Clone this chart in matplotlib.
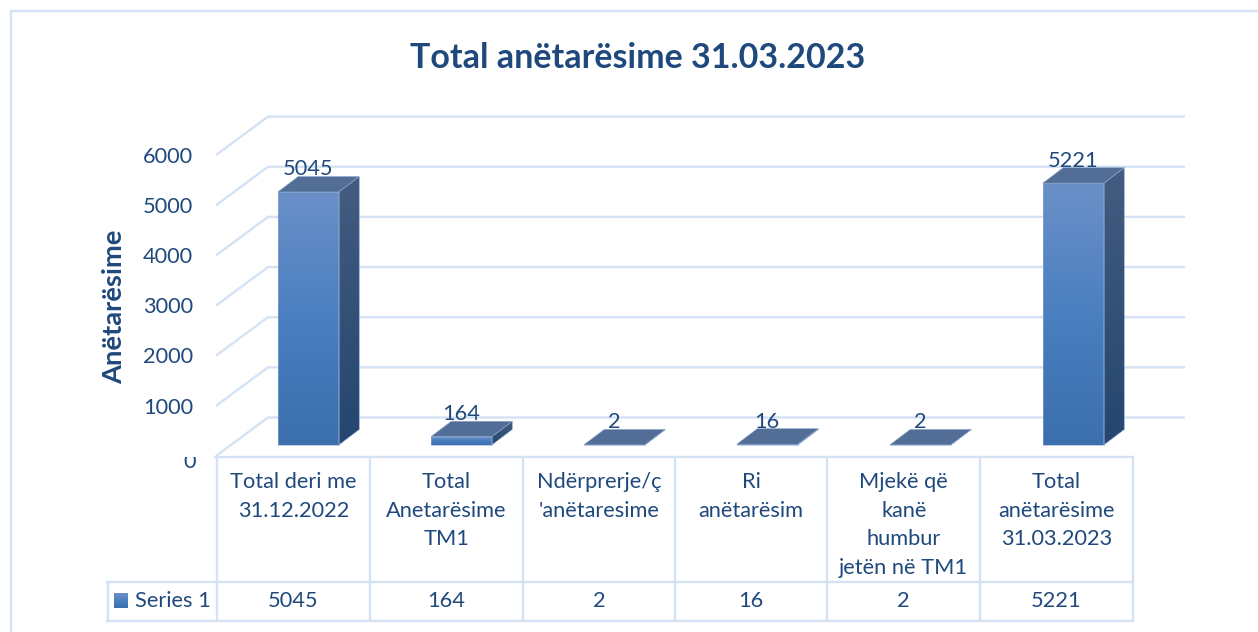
import numpy as np
import matplotlib
matplotlib.use("Agg")
import matplotlib.pyplot as plt
from matplotlib.colors import LinearSegmentedColormap
from matplotlib.patches import Polygon, Rectangle
from matplotlib.transforms import Affine2D, blended_transform_factory

categories = ["Total deri me\n31.12.2022", "Total\nAnetarësime\nTM1", "Ndërprerje/ç\n'anëtaresime",
              "Ri\nanëtarësim", "Mjekë që\nkanë\nhumbur\njetën në TM1", "Total\nanëtarësime\n31.03.2023"]
values = [5045, 164, 2, 16, 2, 5221]
series_name = "Series 1"
y_ticks = [0, 1000, 2000, 3000, 4000, 5000, 6000]
title = "Total anëtarësime 31.03.2023"
y_label = "Anëtarësime"

W, H = 1258, 632
TXT = "#1f497d"
GRID = "#d4e2f4"
FS = 15.7
plt.rcParams['font.family'] = ['Lato', 'DejaVu Sans']

fig = plt.figure(figsize=(W / 100, H / 100), dpi=100, facecolor="white")
ax = fig.add_axes([0, 0, 1, 1])
ax.axis("off")

# data -> pixel layout of the front plane of the bars
X0, DX = 308.25, 153.0
Y0, SY = 445.0, 0.05015
ax.set_xlim((0 - X0) / DX, (W - X0) / DX)
ax.set_ylim((Y0 - H) / SY, Y0 / SY)
px = Affine2D().scale(1 / W, -1 / H).translate(0, 1) + fig.transFigure
px_x = blended_transform_factory(px, ax.transData)

bar_w = 61 / DX
ddx, ddv = 20.5 / DX, 15.5 / SY         # bar depth in data units
wall_dv = 27.5 / SY                     # back wall relative to bars
wall_x0 = (268 - X0) / DX
wall_x1 = (1185 - X0) / DX
side_dx, side_dv = 52 / DX, 38.5 / SY

# chart frame (top and left only are visible)
ax.plot([10.5, 10.5, W], [H, 11, 11], color=GRID, lw=1.7, transform=px, solid_joinstyle="miter")

# gridlines on the wall
for v in y_ticks:
    yb = v + wall_dv
    ax.plot([wall_x0 - side_dx, wall_x0, wall_x1], [yb - side_dv, yb, yb],
            color=GRID, lw=1.7, zorder=1, solid_capstyle="butt")

front_cm = LinearSegmentedColormap.from_list("f", ["#6b90c8", "#4a7fc0", "#3b6fae"])
side_cm = LinearSegmentedColormap.from_list("s", ["#445c80", "#24466f"])
TOP = "#526e96"
EDGE = "#8fa9cf"

def grad_poly(pts, cm, z):
    pts = np.array(pts)
    poly = Polygon(pts, closed=True, facecolor="none", edgecolor=EDGE, lw=0.4, zorder=z + 0.1)
    ax.add_patch(poly)
    g = np.linspace(0, 1, 128).reshape(-1, 1)
    im = ax.imshow(g, cmap=cm, aspect="auto", origin="upper", zorder=z, interpolation="bilinear",
                   extent=[pts[:, 0].min(), pts[:, 0].max(), pts[:, 1].min(), pts[:, 1].max()])
    im.set_clip_path(poly)

xlim, ylim = ax.get_xlim(), ax.get_ylim()
for i, v in enumerate(values):
    l, r = i - bar_w / 2, i + bar_w / 2
    grad_poly([(r, 0), (r + ddx, ddv), (r + ddx, v + ddv), (r, v)], side_cm, 3)
    grad_poly([(l, 0), (r, 0), (r, v), (l, v)], front_cm, 3)
    ax.add_patch(Polygon([(l, v), (r, v), (r + ddx, v + ddv), (l + ddx, v + ddv)], closed=True,
                         facecolor=TOP, edgecolor=EDGE, lw=0.4, zorder=4))
    ax.annotate(str(v), (i, v), xytext=(0, 22.5), textcoords="offset pixels", ha="center", va="center",
                fontsize=FS, color=TXT, zorder=6)
ax.set_xlim(xlim)
ax.set_ylim(ylim)

# value-axis labels
for v in y_ticks[1:]:
    ax.text(193, v - 12.7 / SY, str(v), transform=px_x, ha="right", va="center", fontsize=FS, color=TXT, zorder=6)
zero = ax.text(196, 461.5, str(y_ticks[0]), transform=px, ha="right", va="center", fontsize=FS, color=TXT)
zero.set_clip_path(Rectangle((150, 457), 60, 30, transform=px))
zero.set_clip_on(True)

# title and axis label
ax.text(638, 58, title, transform=px, ha="center", va="center", fontsize=24.5, fontweight="bold", color=TXT)
ax.text(114.5, 307, y_label, transform=px, ha="center", va="center", rotation=90,
        fontsize=19.7, fontweight="bold", color=TXT)

# data table
col_edges = [217 + 153 * k - (0.4 * k if k > 2 else 0) for k in range(7)]
for x in col_edges:
    ax.plot([x, x], [457, 621], color=GRID, lw=1.7, transform=px, solid_capstyle="butt", zorder=2)
ax.plot([107.5, 107.5], [582, 621], color=GRID, lw=1.7, transform=px, zorder=2)
ax.plot([215, col_edges[-1]], [456.5, 456.5], color=GRID, lw=1.7, transform=px, zorder=2)
ax.plot([107, col_edges[-1]], [582, 582], color=GRID, lw=1.7, transform=px, zorder=2)
ax.plot([107, col_edges[-1]], [621, 621], color=GRID, lw=1.7, transform=px, zorder=2)

for k, (c, v) in enumerate(zip(categories, values)):
    xc = (col_edges[k] + col_edges[k + 1]) / 2
    for j, line in enumerate(c.split("\n")):
        ax.text(xc, 482 + 28.7 * j, line, transform=px, ha="center", va="center", fontsize=FS, color=TXT)
    ax.text(xc, 601, str(v), transform=px, ha="center", va="center", fontsize=FS, color=TXT)

# legend key
im = ax.imshow(np.linspace(0, 1, 32).reshape(-1, 1), cmap=front_cm, aspect="auto", origin="upper",
               extent=[114, 128, 608, 593], transform=px, zorder=3)
ax.set_xlim(xlim)
ax.set_ylim(ylim)
ax.text(135, 601, series_name, transform=px, ha="left", va="center", fontsize=FS, color=TXT)

fig.savefig("out.png", dpi=100, facecolor="white")
